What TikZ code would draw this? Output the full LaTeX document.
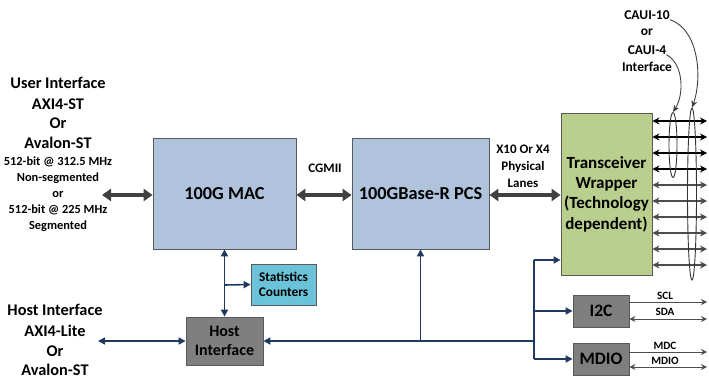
\documentclass[tikz,border=0pt]{standalone}
\usepackage{fontspec}
\setmainfont{Carlito}
\usetikzlibrary{arrows.meta,shapes.geometric}
\definecolor{macblue}{HTML}{B0C3DC}
\definecolor{twgreen}{HTML}{BACF8D}
\definecolor{statcyan}{HTML}{6AC3D8}
\definecolor{hostgray}{HTML}{7F7F7F}
\definecolor{navy}{HTML}{1F3A60}
\definecolor{thickgray}{HTML}{404040}
\definecolor{lanegray}{HTML}{4D4D4D}
\begin{document}
\begin{tikzpicture}[x=1pt,y=-1pt,
  box/.style={draw=black!65, line width=0.8pt, inner sep=0pt, align=center, font=\bfseries},
  bluebox/.style={box, fill=macblue, minimum height=111},
  txt/.style={inner sep=0pt, align=center, font=\bfseries\fontsize{16.3}{19}\selectfont},
  smalltxt/.style={inner sep=0pt, align=center, font=\bfseries\fontsize{12.4}{15}\selectfont},
  sigtxt/.style={inner sep=0pt, font=\bfseries\fontsize{11.2}{13}\selectfont},
  fat/.style={draw=thickgray, line width=4pt, {Triangle[width=12pt,length=9pt]}-{Triangle[width=12pt,length=9pt]}, shorten <=0pt, shorten >=0pt},
  navyline/.style={draw=navy, line width=1.6pt},
  navyarr/.style={navyline, -{Triangle[width=7pt,length=7pt]}},
  navydbl/.style={navyline, {Triangle[width=7pt,length=7pt]}-{Triangle[width=7pt,length=7pt]}},
  lane/.style={line width=1.6pt, {Stealth[width=7pt,length=7pt]}-{Stealth[width=7pt,length=7pt]}},
  sig/.style={draw=lanegray, line width=1pt},
  ring/.style={draw=black!80, line width=0.9pt, ellipse, inner sep=0pt},
  callout/.style={draw=black!75, line width=0.9pt, -{Stealth[width=6pt,length=7pt]}}
]
\useasboundingbox (0,0) rectangle (709,379);

% main boxes
\node[bluebox, minimum width=143, font=\bfseries\fontsize{18.3}{21}\selectfont] (mac) at (224.5,193.5) {100G MAC};
\node[bluebox, minimum width=137, font=\bfseries\fontsize{18.3}{21}\selectfont] (pcs) at (420.5,193.5) {100GBase-R PCS};
\node[box, fill=twgreen, minimum width=91, minimum height=162, font=\bfseries\fontsize{17}{20.3}\selectfont] (tw) at (606.5,194) {Transceiver\\Wrapper\\(Technology\\dependent)};
\node[box, fill=hostgray, minimum width=56, minimum height=32, font=\bfseries\fontsize{17.5}{20}\selectfont] (i2c) at (601,311) {I2C};
\node[box, fill=hostgray, minimum width=56, minimum height=32, font=\bfseries\fontsize{17.5}{20}\selectfont] (mdio) at (601,359) {MDIO};
\node[box, fill=hostgray, minimum width=77, minimum height=48, font=\bfseries\fontsize{16}{19.5}\selectfont] (host) at (224.5,341) {Host\\Interface};
\node[box, fill=statcyan, minimum width=65, minimum height=41, font=\bfseries\fontsize{13.3}{15.5}\selectfont] (stats) at (283.5,284.5) {Statistics\\Counters};

% user interface text
\node[txt] (u1) at (58,83) {User Interface};
\node[txt] (u2) at (58,104) {AXI4-ST};
\node[txt] (u3) at (58,123) {Or};
\node[txt] (u4) at (58,143) {Avalon-ST};
\node[smalltxt] (u5) at (58,162) {512-bit @ 312.5 MHz};
\node[smalltxt] (u6) at (58,178) {Non-segmented};
\node[smalltxt] (u7) at (58,194) {or};
\node[smalltxt] (u8) at (58,210) {512-bit @ 225 MHz};
\node[smalltxt] (u9) at (58,226) {Segmented};

% host interface text
\node[txt] (h1) at (55,310) {Host Interface};
\node[txt] (h2) at (55,331) {AXI4-Lite};
\node[txt] (h3) at (55,351) {Or};
\node[txt] (h4) at (55,370) {Avalon-ST};

% labels
\node[smalltxt, font=\bfseries\fontsize{13}{15}\selectfont] (cgmii) at (325,168) {CGMII};
\node[smalltxt, font=\bfseries\fontsize{13}{17}\selectfont] (lanes) at (523,166) {X10 Or X4\\Physical\\Lanes};

% thick arrows
\coordinate (uiend) at (102,195);
\draw[fat] (uiend) -- (mac.west |- 0,195);
\draw[fat] (mac.east |- 0,195) -- (pcs.west |- 0,195);
\draw[fat] (pcs.east |- 0,195) -- (tw.west |- 0,195);

% navy host connections
\draw[navydbl] (mac.south) -- (host.north);
\coordinate (br) at (224.5,285);
\draw[navyarr] (br) -- (stats.west);
\coordinate (hostend) at (98,341);
\draw[navydbl] (hostend) -- (host.west);
\coordinate (bus) at (534,341);
\draw[navyarr] (bus) -- (host.east);
\draw[navyarr] (pcs.south |- bus) -- (pcs.south);
\coordinate (bustop) at (534,260);
\coordinate (busbot) at (534,359);
\draw[navyline] (bustop) -- (busbot);
\draw[navyarr] (bustop) -- (tw.west |- bustop);
\draw[navyarr] (bus |- i2c.west) -- (i2c.west);
\draw[navyarr] (busbot) -- (mdio.west);

% lanes
\foreach \y [count=\i] in {121,137,153,169,185,201,217,233,249,265} {
  \ifnum\i<5
    \draw[lane, draw=black] (tw.east |- 0,\y) -- (707,\y);
  \else
    \draw[lane, draw=lanegray] (tw.east |- 0,\y) -- (707,\y);
  \fi
}

% rings
\node[ring, minimum width=8, minimum height=65] (r4) at (673,145) {};
\node[ring, minimum width=9, minimum height=172] (r10) at (692,194) {};

% CAUI labels
\node[smalltxt, font=\bfseries\fontsize{13.5}{15}\selectfont] (c10) at (647,15) {CAUI-10};
\node[smalltxt, font=\bfseries\fontsize{13.5}{15}\selectfont] (cor) at (647,32) {or};
\node[smalltxt, font=\bfseries\fontsize{13.5}{15}\selectfont] (c4) at (647,50) {CAUI-4};
\node[smalltxt, font=\bfseries\fontsize{13.5}{15}\selectfont] (cint) at (647,67) {Interface};
\draw[callout] (c10.south east) .. controls (700,30) and (702,80) .. (r10.north);
\draw[callout] (c4.south east) .. controls (684,64) and (684,95) .. (r4.north);

% signal lines
\draw[sig, -{Stealth[width=6pt,length=6pt]}] (i2c.east |- 0,302) -- (707,302);
\draw[sig, {Stealth[width=6pt,length=6pt]}-{Stealth[width=6pt,length=6pt]}] (i2c.east |- 0,319) -- (707,319);
\draw[sig, -{Stealth[width=6pt,length=6pt]}] (mdio.east |- 0,352) -- (707,352);
\draw[sig, {Stealth[width=6pt,length=6pt]}-{Stealth[width=6pt,length=6pt]}] (mdio.east |- 0,367) -- (707,367);
\node[sigtxt] (scl) at (665,296) {SCL};
\node[sigtxt] (sda) at (665,312) {SDA};
\node[sigtxt] (mdc) at (665,346) {MDC};
\node[sigtxt] (mdiol) at (665,361) {MDIO};
\end{tikzpicture}
\end{document}
